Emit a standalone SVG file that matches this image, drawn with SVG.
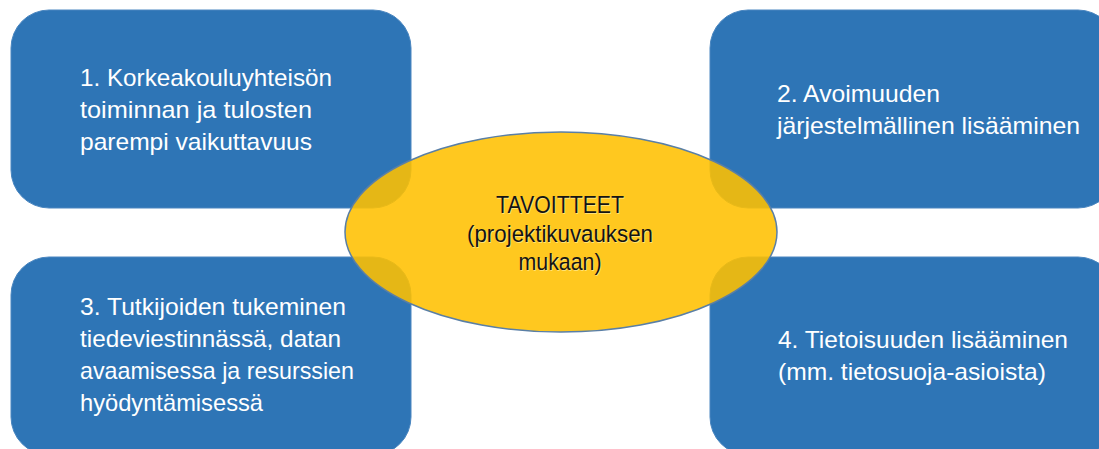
<svg xmlns="http://www.w3.org/2000/svg" width="1099" height="449" viewBox="0 0 1099 449">
  <style>
    .box { fill: #2E75B6; stroke: #4A86C0; stroke-width: 1; }
    .btxt { font-family: "Liberation Sans", Arial, sans-serif; font-size: 24px; fill: #FFFFFF; }
    .ell { fill: #FFC000; fill-opacity: 0.88; stroke: #5A7FA6; stroke-width: 1.5; }
    .ctxt { font-family: "Liberation Sans", Arial, sans-serif; font-size: 24.5px; fill: #141414; text-anchor: middle; }
    .cshadow { font-family: "Liberation Sans", Arial, sans-serif; font-size: 24.5px; fill: #FFF3B0; fill-opacity: 0.6; text-anchor: middle; }
  </style>
  <rect width="1099" height="449" fill="#FFFFFF"/>
  <g id="node1">
    <rect class="box" x="11" y="10" width="400" height="198" rx="38" ry="38"/>
    <text class="btxt" x="80" y="86" textLength="252" lengthAdjust="spacingAndGlyphs">1. Korkeakouluyhteisön</text>
    <text class="btxt" x="80" y="118" textLength="232" lengthAdjust="spacingAndGlyphs">toiminnan ja tulosten</text>
    <text class="btxt" x="80" y="150" textLength="232" lengthAdjust="spacingAndGlyphs">parempi vaikuttavuus</text>
  </g>
  <g id="node2">
    <rect class="box" x="710" y="10" width="406" height="198" rx="38" ry="38"/>
    <text class="btxt" x="777" y="102" textLength="163" lengthAdjust="spacingAndGlyphs">2. Avoimuuden</text>
    <text class="btxt" x="777" y="134" textLength="303" lengthAdjust="spacingAndGlyphs">järjestelmällinen lisääminen</text>
  </g>
  <g id="node3">
    <rect class="box" x="11" y="257" width="400" height="198" rx="38" ry="38"/>
    <text class="btxt" x="80" y="315" textLength="266" lengthAdjust="spacingAndGlyphs">3. Tutkijoiden tukeminen</text>
    <text class="btxt" x="80" y="347" textLength="261" lengthAdjust="spacingAndGlyphs">tiedeviestinnässä, datan</text>
    <text class="btxt" x="80" y="379" textLength="274" lengthAdjust="spacingAndGlyphs">avaamisessa ja resurssien</text>
    <text class="btxt" x="80" y="411" textLength="183" lengthAdjust="spacingAndGlyphs">hyödyntämisessä</text>
  </g>
  <g id="node4">
    <rect class="box" x="710" y="257" width="406" height="198" rx="38" ry="38"/>
    <text class="btxt" x="778" y="348" textLength="290" lengthAdjust="spacingAndGlyphs">4. Tietoisuuden lisääminen</text>
    <text class="btxt" x="778" y="380" textLength="268" lengthAdjust="spacingAndGlyphs">(mm. tietosuoja-asioista)</text>
  </g>
  <g id="center">
    <ellipse class="ell" cx="561" cy="232" rx="216" ry="100"/>
    <text class="cshadow" x="561" y="214" textLength="128" lengthAdjust="spacingAndGlyphs">TAVOITTEET</text>
    <text class="cshadow" x="561" y="243" textLength="186" lengthAdjust="spacingAndGlyphs">(projektikuvauksen</text>
    <text class="cshadow" x="561" y="271" textLength="83" lengthAdjust="spacingAndGlyphs">mukaan)</text>
    <text class="ctxt" x="560" y="213" textLength="128" lengthAdjust="spacingAndGlyphs">TAVOITTEET</text>
    <text class="ctxt" x="560" y="242" textLength="186" lengthAdjust="spacingAndGlyphs">(projektikuvauksen</text>
    <text class="ctxt" x="560" y="270" textLength="83" lengthAdjust="spacingAndGlyphs">mukaan)</text>
  </g>
  <g id="connectors"/>
</svg>
